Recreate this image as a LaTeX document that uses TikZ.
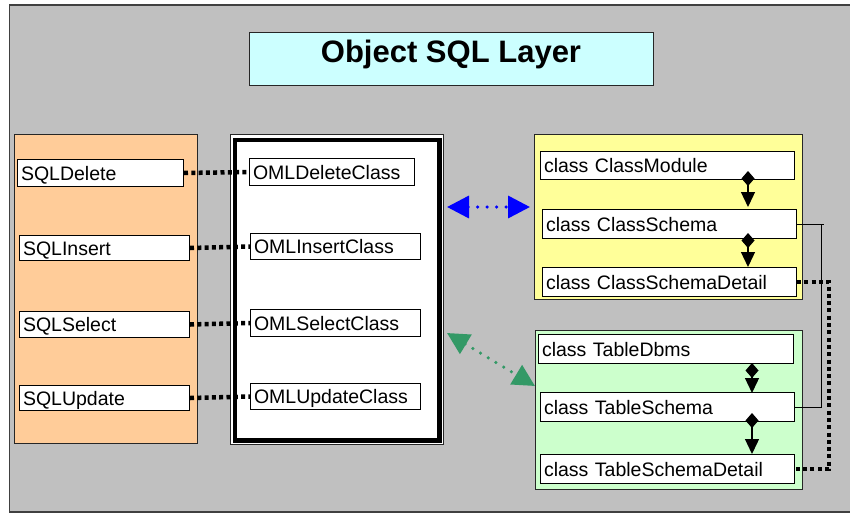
\documentclass[tikz,border=0pt]{standalone}
\usepackage{fontspec}
\setmainfont{Liberation Sans}
\usetikzlibrary{arrows.meta}

\definecolor{bggray}{HTML}{C0C0C0}
\definecolor{edgegray}{HTML}{404040}
\definecolor{titlefill}{HTML}{CCFFFF}
\definecolor{orangefill}{HTML}{FFCC99}
\definecolor{yellowfill}{HTML}{FFFF99}
\definecolor{greenfill}{HTML}{CCFFCC}
\definecolor{seagreen}{HTML}{339966}
\definecolor{linkblue}{HTML}{0000FF}

\newfontfamily\titlefamily{Liberation Sans}
\newcommand{\boxfont}{\fontsize{19.5}{22}\selectfont}
\newcommand{\headfont}{\titlefamily\bfseries\fontsize{31}{34}\selectfont}

% class box given by its corners (x1,y1) and (x2,y2), y growing downwards
\newcommand{\clsbox}[6]{%
  \pgfmathsetmacro{\cbW}{#4-#2}%
  \pgfmathsetmacro{\cbH}{#5-#3}%
  \pgfmathsetmacro{\cbT}{#4-#2-7}%
  \node[cls, minimum width=\cbW pt, minimum height=\cbH pt, text width=\cbT pt] (#1) at (#2,#3) {#6};}

% coloured group panel given by its corners
\newcommand{\grouppanel}[6]{%
  \pgfmathsetmacro{\cbW}{#5-#3}%
  \pgfmathsetmacro{\cbH}{#6-#4}%
  \node[panel, fill=#2, minimum width=\cbW pt, minimum height=\cbH pt] (#1) at (#3,#4) {};}

\begin{document}
\begin{tikzpicture}[x=1pt, y=-1pt,
  cls/.style={draw=black, fill=white, line width=1pt, anchor=north west,
    inner xsep=3.5pt, inner ysep=0pt, align=left,
    text height=14pt, text depth=0pt, font=\boxfont},
  panel/.style={draw=black!85, line width=1pt, anchor=north west, inner sep=0pt},
  titlebox/.style={draw=black!85, fill=titlefill, line width=1pt, inner sep=0pt},
  thickdots/.style={line width=4.5pt, dash pattern=on 4pt off 3.3pt},
  thinlink/.style={line width=1pt},
  compose/.style={line width=1.3pt,
    {Diamond[length=15pt, width=13pt]}-{Triangle[length=15pt, width=14pt]}},
  bluelink/.style={linkblue, line width=3.5pt, line cap=round, dash pattern=on 0pt off 9.5pt,
    {Triangle[length=22pt, width=22pt]}-{Triangle[length=22pt, width=22pt]}},
  greenlink/.style={seagreen, line width=3.5pt, line cap=round, dash pattern=on 0pt off 9pt,
    {Triangle[length=22pt, width=22pt]}-{Triangle[length=22pt, width=22pt]}}
]
\useasboundingbox (0,0) rectangle (850,514);
\fill[white] (0,0) rectangle (850,514);

% grey canvas of the layer
\draw[fill=bggray, draw=edgegray, line width=1.5pt] (9.5,5) rectangle (856,512);

% heading
\node[titlebox, minimum width=404pt, minimum height=53pt] (title) at (451,58.5) {};
\node[font=\headfont, anchor=base, inner sep=0pt] (titletext) at (451,62) {Object SQL Layer};

% group panels
\grouppanel{sqlpanel}{orangefill}{14}{134}{197}{443}
\node[panel, fill=white, minimum width=213pt, minimum height=310pt] (omlpanel) at (230,134) {};
\draw[line width=4.5pt] ([shift={(5,6)}]omlpanel.north west) rectangle ([shift={(-4.5,-4.5)}]omlpanel.south east);
\grouppanel{classpanel}{yellowfill}{534}{134}{802}{299}
\grouppanel{tablepanel}{greenfill}{535}{330}{802}{489}

% SQL statements
\clsbox{sqldelete}{17}{159}{183}{186}{SQLDelete}
\clsbox{sqlinsert}{19}{235}{189}{260}{SQLInsert}
\clsbox{sqlselect}{19}{311}{189}{337}{SQLSelect}
\clsbox{sqlupdate}{19}{385}{189}{410}{SQLUpdate}

% OML classes
\clsbox{omldelete}{249}{158}{414}{185}{OMLDeleteClass}
\clsbox{omlinsert}{250}{233}{420}{259}{OMLInsertClass}
\clsbox{omlselect}{250}{309}{420}{336}{OMLSelectClass}
\clsbox{omlupdate}{250}{383}{420}{409}{OMLUpdateClass}

% schema classes
\clsbox{classmodule}{540}{151}{794}{179}{class ClassModule}
\clsbox{classschema}{542}{209}{796}{238}{class ClassSchema}
\clsbox{classdetail}{542}{267}{796}{296}{class ClassSchemaDetail}

% table classes
\clsbox{tabledbms}{538}{334}{793}{363}{class TableDbms}
\clsbox{tableschema}{540}{392}{794}{421}{class TableSchema}
\clsbox{tabledetail}{540}{454}{794}{483}{class TableSchemaDetail}

% statement to class links
\draw[thickdots] (sqldelete.east) -- (omldelete.west);
\draw[thickdots] (sqlinsert.east) -- (omlinsert.west);
\draw[thickdots] (sqlselect.east) -- (omlselect.west);
\draw[thickdots] (sqlupdate.east) -- (omlupdate.west);

% composition inside the panels
\coordinate (ycol) at (748,0);
\coordinate (gcol) at (752,0);
\draw[compose] ([yshift=9pt]classmodule.south -| ycol) -- ([yshift=2pt]classschema.north -| ycol);
\draw[compose] ([yshift=6pt]classschema.south -| ycol) -- (classdetail.north -| ycol);
\draw[compose] ([yshift=1pt]tabledbms.south -| gcol) -- ([yshift=-1pt]tableschema.north -| gcol);
\draw[compose] ([yshift=9pt]tableschema.south -| gcol) -- (tabledetail.north -| gcol);

% links between the panels
\coordinate (bl) at (447,207);
\coordinate (br) at (530,207);
\draw[bluelink] (bl) -- (br);
\coordinate (gl) at (447,333);
\coordinate (gr) at (535,386);
\draw[greenlink] (gl) -- (gr);

% schema to table links on the right
\draw[thinlink] (classschema.east) -- ++(27,0) coordinate (brk);
\draw[thinlink] (tableschema.east) -- ++(27,0);
\draw[thinlink] ([xshift=-3pt]brk) -- ([xshift=-3pt]brk |- tableschema.east);
\draw[thickdots] (classdetail.east) -- ++(32,0) coordinate (dk) -- (dk |- tabledetail.east) -- (tabledetail.east);

\end{tikzpicture}
\end{document}
